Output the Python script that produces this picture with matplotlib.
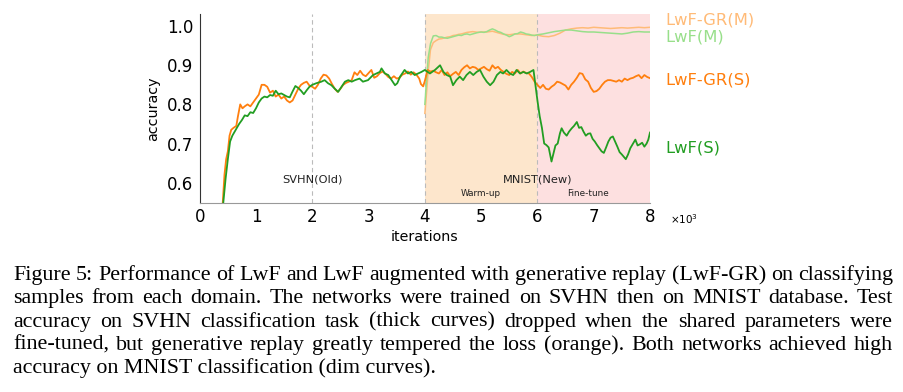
import matplotlib
matplotlib.use("Agg")
import matplotlib.pyplot as plt

# iterations are in thousands (x10^3)
gr_s_x = [0.0, 0.35, 0.41, 0.44, 0.47, 0.50, 0.53, 0.56, 0.60, 0.65, 0.68, 0.72, 0.76, 0.80, 0.85, 0.90, 0.95,
          1.00, 1.05, 1.10, 1.15, 1.20, 1.25, 1.30, 1.35, 1.40, 1.45, 1.50, 1.55, 1.60, 1.65, 1.70, 1.75, 1.80,
          1.85, 1.90, 1.95, 2.00, 2.05, 2.10, 2.15, 2.20, 2.25, 2.30, 2.35, 2.40, 2.45, 2.50, 2.55, 2.60, 2.65,
          2.70, 2.75, 2.80, 2.85, 2.90, 2.95, 3.00, 3.05, 3.10, 3.15, 3.20, 3.25, 3.30, 3.35, 3.40, 3.45, 3.50,
          3.55, 3.60, 3.65, 3.70, 3.75, 3.80, 3.85, 3.90, 3.93, 3.97, 4.00, 4.05, 4.10, 4.15, 4.20, 4.25, 4.30,
          4.35, 4.40, 4.45, 4.50, 4.55, 4.60, 4.65, 4.70, 4.75, 4.80, 4.85, 4.90, 4.95, 5.00, 5.05, 5.10, 5.15,
          5.20, 5.25, 5.30, 5.35, 5.40, 5.45, 5.50, 5.55, 5.60, 5.65, 5.70, 5.75, 5.80, 5.85, 5.90, 5.95, 6.00,
          6.05, 6.10, 6.15, 6.20, 6.25, 6.30, 6.35, 6.40, 6.45, 6.50, 6.55, 6.60, 6.65, 6.70, 6.75, 6.80, 6.85,
          6.90, 6.95, 7.00, 7.05, 7.10, 7.15, 7.20, 7.25, 7.30, 7.35, 7.40, 7.45, 7.50, 7.55, 7.60, 7.65, 7.70,
          7.75, 7.80, 7.85, 7.90, 7.95, 8.00]
gr_s_y = [0.10, 0.42, 0.55, 0.62, 0.66, 0.68, 0.72, 0.735, 0.74, 0.745, 0.77, 0.80, 0.79, 0.795, 0.80, 0.795, 0.805,
          0.815, 0.825, 0.85, 0.85, 0.845, 0.83, 0.835, 0.82, 0.825, 0.815, 0.82, 0.81, 0.805, 0.81, 0.825, 0.84, 0.85,
          0.855, 0.858, 0.848, 0.845, 0.84, 0.85, 0.866, 0.876, 0.874, 0.866, 0.852, 0.84, 0.832, 0.84, 0.85, 0.855, 0.858,
          0.862, 0.882, 0.875, 0.886, 0.876, 0.872, 0.88, 0.888, 0.868, 0.872, 0.88, 0.884, 0.878, 0.87, 0.866, 0.872, 0.866,
          0.868, 0.876, 0.879, 0.884, 0.876, 0.882, 0.876, 0.866, 0.852, 0.846, 0.86, 0.888, 0.884, 0.886, 0.882, 0.879, 0.888,
          0.875, 0.882, 0.872, 0.878, 0.883, 0.875, 0.888, 0.895, 0.90, 0.892, 0.896, 0.894, 0.888, 0.892, 0.896, 0.89, 0.886,
          0.90, 0.892, 0.896, 0.888, 0.883, 0.878, 0.875, 0.883, 0.879, 0.888, 0.879, 0.884, 0.88, 0.879, 0.87, 0.858, 0.85,
          0.842, 0.85, 0.84, 0.838, 0.845, 0.85, 0.858, 0.856, 0.852, 0.848, 0.838, 0.85, 0.858, 0.868, 0.88, 0.878, 0.864,
          0.858, 0.842, 0.832, 0.834, 0.84, 0.85, 0.858, 0.862, 0.862, 0.86, 0.858, 0.862, 0.858, 0.866, 0.862, 0.866, 0.868,
          0.872, 0.875, 0.867, 0.875, 0.87, 0.867]

lwf_s_x = [0.0, 0.36, 0.42, 0.46, 0.50, 0.54, 0.58, 0.62, 0.66, 0.70, 0.75, 0.80, 0.85, 0.90, 0.95, 1.00, 1.05,
           1.10, 1.15, 1.20, 1.25, 1.30, 1.35, 1.40, 1.45, 1.50, 1.55, 1.60, 1.65, 1.70, 1.75, 1.80, 1.85, 1.90,
           1.95, 2.00, 2.07, 2.16, 2.22, 2.28, 2.34, 2.40, 2.46, 2.52, 2.58, 2.64, 2.70, 2.76, 2.84, 2.90, 2.99,
           3.08, 3.14, 3.20, 3.23, 3.29, 3.35, 3.41, 3.47, 3.51, 3.56, 3.64, 3.70, 3.76, 3.82, 3.88, 3.94, 4.00,
           4.09, 4.18, 4.27, 4.33, 4.39, 4.45, 4.50, 4.56, 4.62, 4.68, 4.74, 4.80, 4.86, 4.92, 4.98, 5.04, 5.10,
           5.16, 5.22, 5.28, 5.34, 5.39, 5.45, 5.51, 5.57, 5.63, 5.69, 5.75, 5.81, 5.87, 5.93, 5.96, 6.00, 6.04,
           6.08, 6.12, 6.16, 6.20, 6.25, 6.28, 6.32, 6.36, 6.40, 6.43, 6.47, 6.52, 6.56, 6.61, 6.65, 6.70, 6.74,
           6.78, 6.82, 6.86, 6.90, 6.94, 6.98, 7.02, 7.06, 7.10, 7.14, 7.18, 7.22, 7.26, 7.30, 7.34, 7.38, 7.42,
           7.46, 7.50, 7.54, 7.57, 7.61, 7.65, 7.70, 7.74, 7.78, 7.82, 7.86, 7.90, 7.94, 7.97, 8.00]
lwf_s_y = [0.10, 0.44, 0.55, 0.61, 0.66, 0.705, 0.72, 0.73, 0.74, 0.75, 0.76, 0.772, 0.77, 0.78, 0.778, 0.79, 0.805,
           0.815, 0.82, 0.818, 0.824, 0.822, 0.835, 0.826, 0.828, 0.824, 0.82, 0.818, 0.833, 0.847, 0.842, 0.835, 0.826, 0.836,
           0.845, 0.85, 0.854, 0.858, 0.862, 0.854, 0.849, 0.84, 0.832, 0.845, 0.858, 0.862, 0.858, 0.862, 0.866, 0.858, 0.862,
           0.875, 0.879, 0.883, 0.892, 0.879, 0.875, 0.862, 0.849, 0.854, 0.871, 0.888, 0.879, 0.883, 0.875, 0.879, 0.883, 0.888,
           0.879, 0.888, 0.90, 0.883, 0.875, 0.871, 0.849, 0.862, 0.871, 0.862, 0.875, 0.883, 0.875, 0.883, 0.888, 0.871, 0.858,
           0.849, 0.858, 0.875, 0.883, 0.879, 0.888, 0.879, 0.875, 0.888, 0.879, 0.883, 0.879, 0.883, 0.888, 0.855, 0.81, 0.77,
           0.74, 0.70, 0.696, 0.69, 0.654, 0.672, 0.695, 0.70, 0.726, 0.739, 0.728, 0.72, 0.73, 0.739, 0.745, 0.755, 0.74,
           0.742, 0.73, 0.72, 0.725, 0.726, 0.712, 0.705, 0.696, 0.688, 0.68, 0.676, 0.69, 0.705, 0.715, 0.718, 0.705, 0.692,
           0.678, 0.672, 0.665, 0.66, 0.672, 0.688, 0.70, 0.71, 0.695, 0.698, 0.702, 0.692, 0.70, 0.71, 0.728]

gr_m_x = [4.00, 4.03, 4.06, 4.10, 4.15, 4.20, 4.25, 4.30, 4.35, 4.40, 4.45, 4.50, 4.55, 4.60, 4.65, 4.70, 4.75,
          4.80, 4.85, 4.90, 4.95, 5.00, 5.10, 5.20, 5.30, 5.40, 5.50, 5.60, 5.70, 5.80, 5.90, 6.00, 6.10, 6.20,
          6.30, 6.40, 6.50, 6.60, 6.70, 6.80, 6.90, 7.00, 7.10, 7.20, 7.30, 7.40, 7.50, 7.60, 7.70, 7.80, 7.90, 8.00]
gr_m_y = [0.777, 0.83, 0.885, 0.94, 0.958, 0.963, 0.967, 0.968, 0.97, 0.972, 0.973, 0.976, 0.977, 0.979, 0.98, 0.982,
          0.984, 0.985, 0.986, 0.985, 0.984, 0.985, 0.985, 0.987, 0.983, 0.979, 0.978, 0.98, 0.98, 0.978, 0.976, 0.977,
          0.974, 0.973, 0.976, 0.982, 0.99, 0.993, 0.995, 0.996, 0.995, 0.997, 0.996, 0.995, 0.994, 0.995, 0.996, 0.995,
          0.996, 0.997, 0.996, 0.997]

lwf_m_x = [4.00, 4.03, 4.06, 4.10, 4.15, 4.20, 4.25, 4.30, 4.35, 4.40, 4.45, 4.50, 4.55, 4.60, 4.65, 4.70, 4.75,
           4.80, 4.85, 4.90, 4.95, 5.00, 5.05, 5.10, 5.15, 5.20, 5.25, 5.30, 5.35, 5.40, 5.45, 5.50, 5.55, 5.60,
           5.65, 5.70, 5.75, 5.80, 5.85, 5.90, 5.95, 6.00, 6.10, 6.20, 6.30, 6.40, 6.50, 6.60, 6.70, 6.80, 6.90,
           7.00, 7.10, 7.20, 7.30, 7.40, 7.50, 7.60, 7.70, 7.80, 7.90, 8.00]
lwf_m_y = [0.80, 0.86, 0.92, 0.955, 0.975, 0.976, 0.972, 0.972, 0.97, 0.969, 0.971, 0.973, 0.975, 0.977, 0.976, 0.979,
           0.98, 0.978, 0.98, 0.982, 0.984, 0.985, 0.984, 0.986, 0.99, 0.993, 0.99, 0.986, 0.984, 0.98, 0.977, 0.973,
           0.976, 0.98, 0.981, 0.985, 0.983, 0.98, 0.979, 0.977, 0.976, 0.978, 0.98, 0.983, 0.986, 0.988, 0.99, 0.99,
           0.988, 0.986, 0.985, 0.985, 0.984, 0.983, 0.982, 0.981, 0.98, 0.982, 0.985, 0.986, 0.985, 0.985]

series_labels = ["LwF-GR(M)", "LwF(M)", "LwF-GR(S)", "LwF(S)"]
label_y = [1.0035, 0.962, 0.852, 0.678]

caption_lines = [
    "Figure 5: Performance of LwF and LwF augmented with generative replay (LwF-GR) on classifying",
    "samples from each domain. The networks were trained on SVHN then on MNIST database. Test",
    "accuracy on SVHN classification task (thick curves) dropped when the shared parameters were",
    "fine-tuned, but generative replay greatly tempered the loss (orange). Both networks achieved high",
    "accuracy on MNIST classification (dim curves).",
]

ORANGE = "#ff7f0e"
LIGHT_ORANGE = "#ffbb78"
GREEN = "#229e22"
LIGHT_GREEN = "#98df8a"

W, H = 904, 392
fig = plt.figure(figsize=(W / 100, H / 100), dpi=100)
ax = fig.add_axes([199.7 / W, 1 - 203 / H, 450.3 / W, 189 / H])

ax.axvspan(4, 6, color="#fde6cc", lw=0, zorder=0)
ax.axvspan(6, 8, color="#fde0e0", lw=0, zorder=0)
for xv in [2, 4, 6]:
    ax.axvline(xv, color="#bbbbbb", lw=0.8, ls=(0, (4, 3)), zorder=1)

ax.plot(gr_m_x, gr_m_y, color=LIGHT_ORANGE, lw=1.1, zorder=2)
ax.plot(lwf_m_x, lwf_m_y, color=LIGHT_GREEN, lw=1.1, zorder=2)
ax.plot(gr_s_x, gr_s_y, color=ORANGE, lw=1.3, zorder=3)
ax.plot(lwf_s_x, lwf_s_y, color=GREEN, lw=1.3, zorder=3)

for lab, yv, col in zip(series_labels, label_y, [LIGHT_ORANGE, LIGHT_GREEN, ORANGE, GREEN]):
    ax.text(8.27, yv, lab, color=col, fontsize=11.8, va="baseline", ha="left", clip_on=False)

ax.text(2.0, 0.607, "SVHN(Old)", fontsize=8.2, ha="center", va="center", color="#222222")
ax.text(6.0, 0.607, "MNIST(New)", fontsize=8.2, ha="center", va="center", color="#222222")
ax.text(5.0, 0.573, "Warm-up", fontsize=6.4, ha="center", va="center", color="#222222")
ax.text(6.9, 0.573, "Fine-tune", fontsize=6.4, ha="center", va="center", color="#222222")

ax.set_xlim(0, 8)
ax.set_ylim(0.548, 1.031)
ax.set_xticks(range(0, 9))
ax.set_yticks([0.6, 0.7, 0.8, 0.9, 1.0])
ax.tick_params(length=0, labelsize=12)
ax.tick_params(axis="x", pad=3.5)
ax.tick_params(axis="y", pad=4.6)
ax.set_xlabel("iterations", fontsize=10.3, labelpad=3)
ax.set_ylabel("accuracy", fontsize=10.3, labelpad=5)
ax.spines["top"].set_visible(False)
ax.spines["right"].set_visible(False)
ax.spines["left"].set_color("#333333")
ax.spines["bottom"].set_color("#999999")

fig.text(670 / W, 1 - 224 / H, r"$\times10^{3}$", fontsize=7.5, va="baseline", ha="left")

# justified caption
fig.canvas.draw()
renderer = fig.canvas.get_renderer()
left_px, right_px = 13, 893
baselines = [280, 303.3, 326.6, 349.9, 373.2]
cap_font = dict(family="Liberation Serif", fontsize=15.8, va="baseline", ha="left")
for i, line in enumerate(caption_lines):
    yf = 1 - baselines[i] / H
    if i == len(caption_lines) - 1:
        fig.text(left_px / W, yf, line, **cap_font)
        continue
    words = line.split()
    texts = [fig.text(0, yf, w, **cap_font) for w in words]
    widths = [t.get_window_extent(renderer).width for t in texts]
    gap = (right_px - left_px - sum(widths)) / (len(words) - 1)
    x = left_px
    for t, w in zip(texts, widths):
        t.set_x(x / W)
        x += w + gap

fig.savefig("out.png", dpi=100)
